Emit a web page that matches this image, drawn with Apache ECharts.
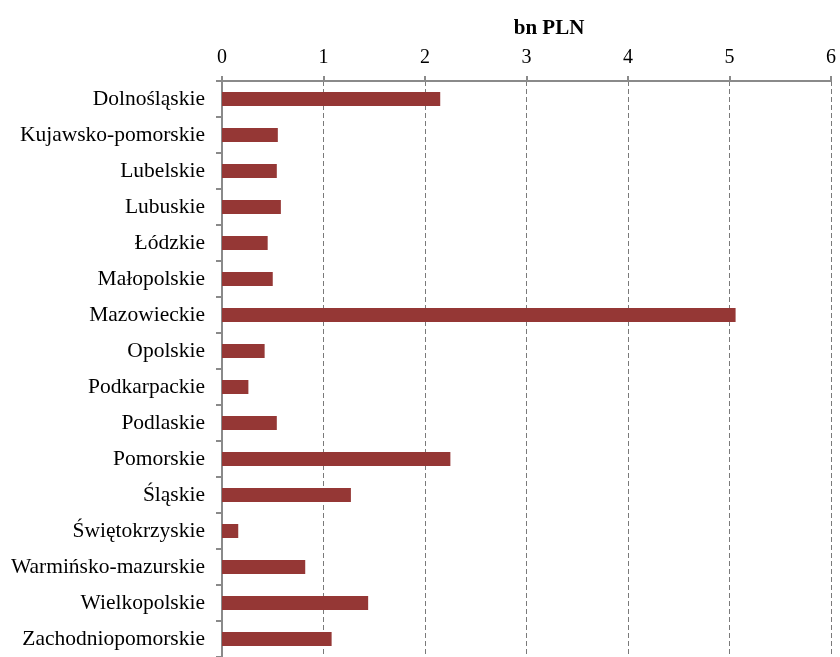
<!DOCTYPE html>
<html>
<head>
<meta charset="utf-8">
<script src="https://cdn.jsdelivr.net/npm/echarts@6/dist/echarts.min.js"></script>
<style>
  html, body { margin: 0; padding: 0; background: #fff; }
  #main { width: 840px; height: 657px; }
</style>
</head>
<body>
<div id="main"></div>
<script>
const regions = [
  'Dolnośląskie', 'Kujawsko-pomorskie', 'Lubelskie', 'Lubuskie', 'Łódzkie',
  'Małopolskie', 'Mazowieckie', 'Opolskie', 'Podkarpackie', 'Podlaskie',
  'Pomorskie', 'Śląskie', 'Świętokrzyskie', 'Warmińsko-mazurskie',
  'Wielkopolskie', 'Zachodniopomorskie'
];
const values = [2.15, 0.55, 0.54, 0.58, 0.45, 0.50, 5.06, 0.42, 0.26, 0.54,
  2.25, 1.27, 0.16, 0.82, 1.44, 1.08];
const axisTitle = 'bn PLN';

const font = '"Liberation Serif", "Times New Roman", serif';
const chart = echarts.init(document.getElementById('main'));

chart.setOption({
  animation: false,
  title: {
    text: axisTitle,
    left: 544,
    top: 13,
    textAlign: 'center',
    textStyle: { fontFamily: font, fontSize: 21, fontWeight: 'bold', color: '#000' }
  },
  grid: { left: 222, right: 9, top: 81, height: 580 },
  xAxis: {
    type: 'value',
    position: 'top',
    min: 0,
    max: 6,
    interval: 1,
    axisLine: { show: true, lineStyle: { color: '#8a8a8a', width: 2 } },
    axisTick: { show: true, length: 5, lineStyle: { color: '#8a8a8a', width: 2 } },
    axisLabel: { fontFamily: font, fontSize: 20, color: '#000', margin: 13 },
    splitLine: { show: true, lineStyle: { color: '#7a7a7a', type: [5, 3], width: 1 } }
  },
  yAxis: {
    type: 'category',
    data: regions,
    inverse: true,
    axisLine: { show: true, lineStyle: { color: '#8a8a8a', width: 2 } },
    axisTick: { show: true, length: 6, lineStyle: { color: '#8a8a8a', width: 2 } },
    axisLabel: { fontFamily: font, fontSize: 21.5, color: '#000', margin: 17 }
  },
  series: [{
    type: 'bar',
    data: values,
    barWidth: 14,
    itemStyle: { color: '#953735' }
  }]
});
</script>
</body>
</html>
